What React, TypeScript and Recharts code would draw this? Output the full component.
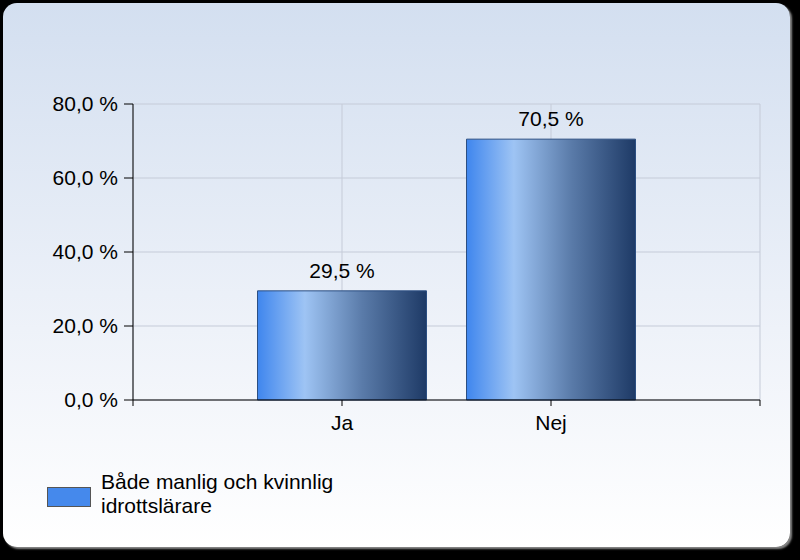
import { BarChart, Bar, XAxis, YAxis, CartesianGrid, LabelList } from 'recharts'

const categories = ['Ja', 'Nej']
const values = [29.5, 70.5]
const yTicks = [0, 20, 40, 60, 80]
const legendLines = ['Både manlig och kvinnlig', 'idrottslärare']

const data = categories.map((name, i) => ({ x: i + 1, name, value: values[i] }))

const font = '"Liberation Sans", Arial, sans-serif'
const pct = (v: number) => `${v.toFixed(1).replace('.', ',')} %`

function LegendBox() {
  return (
    <div style={{ display: 'flex', alignItems: 'center', fontFamily: font, fontSize: 21, color: '#000' }}>
      <div style={{ width: 42, height: 18, background: '#4589ec', border: '1px solid #555', marginRight: 10, marginTop: 5 }} />
      <div style={{ lineHeight: '24px' }}>
        {legendLines[0]}
        <br />
        {legendLines[1]}
      </div>
    </div>
  )
}

export default function App() {
  return (
    <div style={{ position: 'absolute', left: 0, top: 0, width: 800, height: 560, background: '#000' }}>
      <div
        style={{
          position: 'absolute',
          left: 3,
          top: 3,
          width: 787,
          height: 544,
          borderRadius: 14,
          background: 'linear-gradient(#d3dff0, #eef2f9 60%, #ffffff)',
          boxShadow: '2px 2px 2px #888',
        }}
      />
      <div style={{ position: 'absolute', left: 0, top: 0 }}>
        <BarChart
          width={800}
          height={560}
          data={data}
          margin={{ top: 104, right: 40, bottom: 130, left: 0 }}
          style={{ fontFamily: font }}
        >
          <defs>
            <linearGradient id="barGrad" x1="0" y1="0" x2="1" y2="0">
              <stop offset="0%" stopColor="#3f86ee" />
              <stop offset="28%" stopColor="#9ec4f4" />
              <stop offset="62%" stopColor="#5a7ba9" />
              <stop offset="100%" stopColor="#1e3a66" />
            </linearGradient>
          </defs>
          <CartesianGrid stroke="#c5cbd8" />
          <XAxis
            type="number"
            dataKey="x"
            domain={[0, 3]}
            ticks={[0, 1, 2, 3]}
            tickFormatter={(v: number) => categories[v - 1] ?? ''}
            height={30}
            tickSize={6}
            axisLine={{ stroke: '#000' }}
            tickLine={{ stroke: '#000' }}
            tick={{ fill: '#000', fontSize: 21, dy: 7 }}
          />
          <YAxis
            domain={[0, 80]}
            ticks={yTicks}
            tickFormatter={pct}
            width={133}
            tickSize={9}
            axisLine={{ stroke: '#000' }}
            tickLine={{ stroke: '#000' }}
            tick={{ fill: '#000', fontSize: 21, dx: -4 }}
          />
          <Bar
            dataKey="value"
            fill="url(#barGrad)"
            stroke="#2c4f82"
            strokeWidth={1}
            barSize={169}
            isAnimationActive={false}
          >
            <LabelList dataKey="value" position="top" offset={13} formatter={pct} fill="#000" fontSize={21} />
          </Bar>
        </BarChart>
      </div>
      <div style={{ position: 'absolute', left: 47, top: 470 }}>
        <LegendBox />
      </div>
    </div>
  )
}
